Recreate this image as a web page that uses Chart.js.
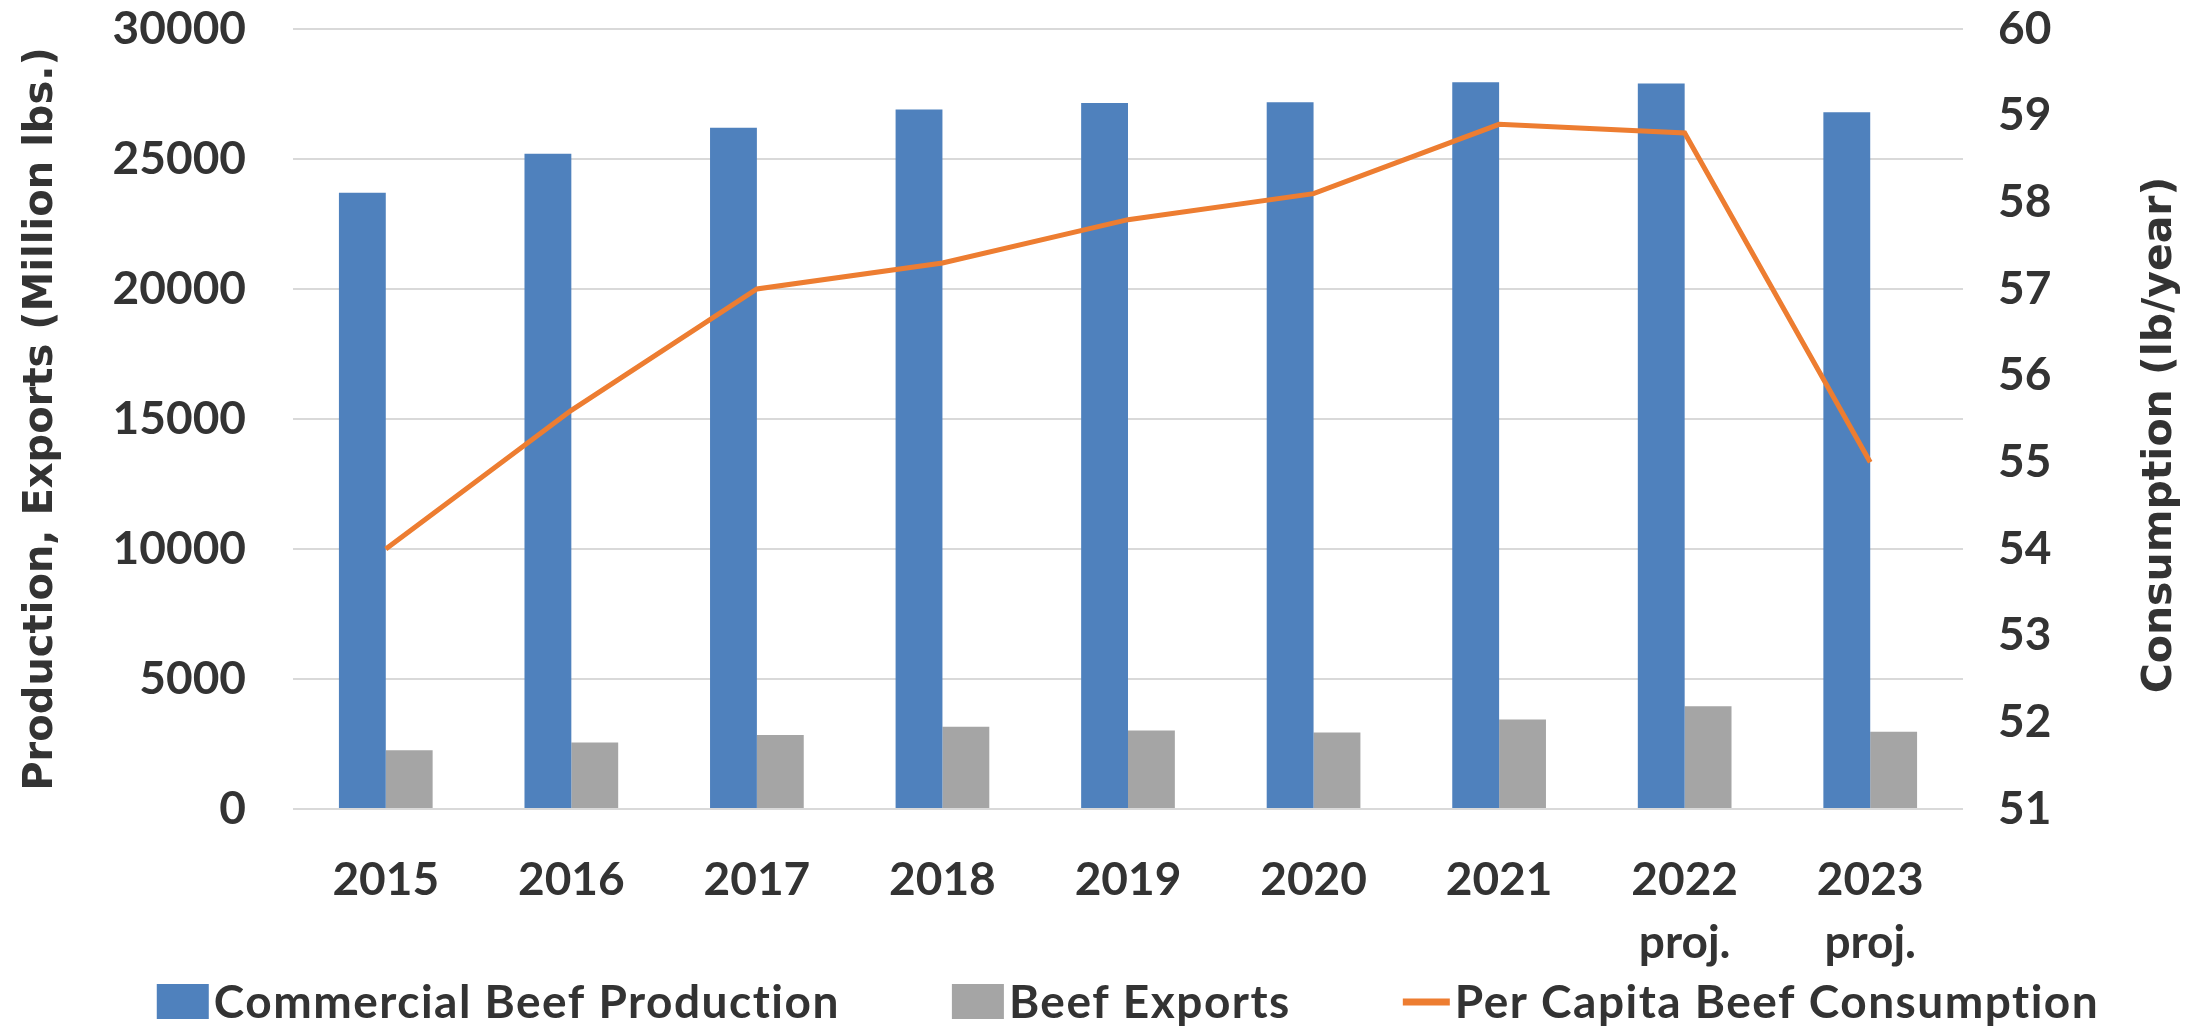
<!DOCTYPE html>
<html>
<head>
<meta charset="utf-8">
<script src="https://cdn.jsdelivr.net/npm/chart.js@4.4.0/dist/chart.umd.min.js"></script>
<style>
  html, body { margin: 0; padding: 0; background: #fff; }
</style>
</head>
<body>
<canvas id="beefChart" width="2206" height="1027"></canvas>
<script>
// values
const years = ["2015", "2016", "2017", "2018", "2019", "2020", "2021", ["2022", "proj."], ["2023", "proj."]];
const production = [23700, 25200, 26200, 26900, 27150, 27180, 27950, 27900, 26800];
const exportsLbs = [2260, 2560, 2850, 3160, 3020, 2940, 3440, 3950, 2970];
const perCapita = [54.0, 55.6, 57.0, 57.3, 57.8, 58.1, 58.9, 58.8, 55.0];

const textColor = "#333333";
const xFont = { family: "Lato", weight: "bold", size: 46, lineHeight: 1.37 };
const yFont = { family: "Lato", weight: "bold", size: 46, lineHeight: 1.2 };
const titleFont = { family: "DejaVu Sans", weight: "bold", size: 40, lineHeight: 1.2 };

// right axis title reads bottom-to-top, so draw it ourselves
const rightTitle = {
    id: "rightTitle",
    afterDraw(chart) {
        const ctx = chart.ctx;
        const s = chart.scales.y1;
        ctx.save();
        ctx.translate(s.right - 46, (s.top + s.bottom) / 2 + 16);
        ctx.rotate(-Math.PI / 2);
        ctx.font = "bold 41px 'DejaVu Sans'";
        ctx.fillStyle = textColor;
        ctx.textAlign = "center";
        ctx.textBaseline = "middle";
        ctx.fillText("Consumption (lb/year)", 0, 0);
        ctx.restore();
    }
};

// excel style legend: tight box/text gap, wide gap between items
const bottomLegend = {
    id: "bottomLegend",
    afterDraw(chart) {
        const ctx = chart.ctx;
        const area = chart.chartArea;
        ctx.save();
        ctx.font = "bold 46px Lato";
        ctx.letterSpacing = "1.5px";
        const items = chart.data.datasets.map(ds => ({
            text: ds.label,
            isLine: ds.type === "line",
            color: ds.type === "line" ? ds.borderColor : ds.backgroundColor,
            w: ctx.measureText(ds.label).width
        }));
        const boxW = 52, boxH = 35, lineW = 47, gap = 5, spacing = 112;
        let total = 0;
        items.forEach((it, i) => {
            total += (it.isLine ? lineW : boxW) + gap + it.w + (i ? spacing : 0);
        });
        let x = (area.left + area.right) / 2 - total / 2;
        const base = chart.height - 9;
        items.forEach(it => {
            if (it.isLine) {
                ctx.strokeStyle = it.color;
                ctx.lineWidth = 7;
                ctx.beginPath();
                ctx.moveTo(x, base - 16);
                ctx.lineTo(x + lineW, base - 16);
                ctx.stroke();
                x += lineW + gap;
            } else {
                ctx.fillStyle = it.color;
                ctx.fillRect(x, base - boxH + 1, boxW, boxH);
                x += boxW + gap;
            }
            ctx.fillStyle = textColor;
            ctx.textBaseline = "alphabetic";
            ctx.fillText(it.text, x, base);
            x += it.w + spacing;
        });
        ctx.restore();
    }
};

const plainTick = v => String(v);

new Chart(document.getElementById("beefChart"), {
    data: {
        labels: years,
        datasets: [
            {
                type: "bar",
                label: "Commercial Beef Production",
                data: production,
                backgroundColor: "#4F81BD",
                yAxisID: "y",
                order: 1
            },
            {
                type: "bar",
                label: "Beef Exports",
                data: exportsLbs,
                backgroundColor: "#A5A5A5",
                yAxisID: "y",
                order: 1
            },
            {
                type: "line",
                label: "Per Capita Beef Consumption",
                data: perCapita,
                borderColor: "#ED7D31",
                backgroundColor: "#ED7D31",
                borderWidth: 5,
                pointRadius: 0,
                tension: 0,
                yAxisID: "y1",
                order: 0
            }
        ]
    },
    options: {
        responsive: false,
        devicePixelRatio: 1,
        animation: false,
        layout: { padding: { top: 29, left: 0, right: 0, bottom: 0 } },
        datasets: {
            bar: { categoryPercentage: 0.505, barPercentage: 1.0 }
        },
        plugins: {
            legend: { display: false },
            tooltip: { enabled: false }
        },
        scales: {
            x: {
                grid: { display: false, drawTicks: false },
                border: { display: false },
                ticks: {
                    font: xFont,
                    color: textColor,
                    padding: 40,
                    maxRotation: 0,
                    autoSkip: false
                },
                afterFit: s => { s.height = 218; s.paddingLeft = 0; s.paddingRight = 0; }
            },
            y: {
                position: "left",
                min: 0,
                max: 30000,
                ticks: { stepSize: 5000, font: yFont, color: textColor, padding: 47, callback: plainTick },
                grid: { color: "#D9D9D9", lineWidth: 2, drawTicks: false },
                border: { display: false },
                title: {
                    display: true,
                    text: "Production, Exports (Million lbs.)",
                    font: titleFont,
                    color: textColor,
                    padding: { top: 18, bottom: 0 }
                },
                afterFit: s => { s.width = 293; s.paddingTop = 0; s.paddingBottom = 0; }
            },
            y1: {
                position: "right",
                min: 51,
                max: 60,
                ticks: { stepSize: 1, font: yFont, color: textColor, padding: 35, callback: plainTick },
                grid: { display: false, drawTicks: false },
                border: { display: false },
                afterFit: s => { s.width = 243; s.paddingTop = 0; s.paddingBottom = 0; }
            }
        }
    },
    plugins: [rightTitle, bottomLegend]
});
</script>
</body>
</html>
